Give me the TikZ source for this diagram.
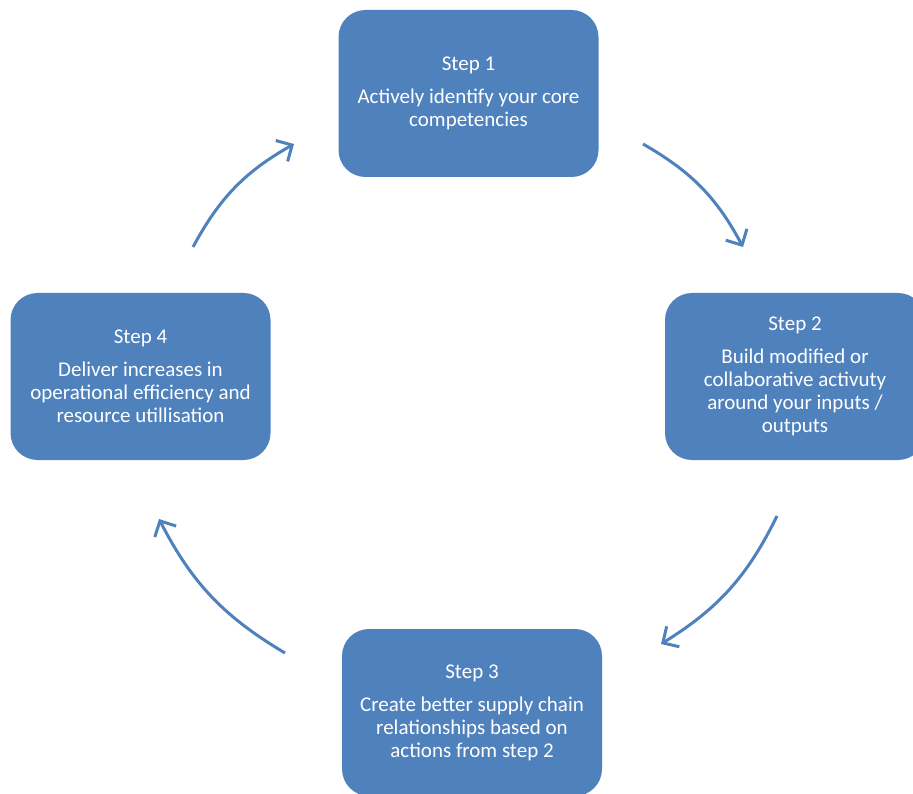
\documentclass[tikz,border=0pt]{standalone}
\usepackage{fontspec}
\setmainfont{Carlito}
\usetikzlibrary{arrows.meta}
\definecolor{stepblue}{RGB}{79,129,189}

\begin{document}
\begin{tikzpicture}[x=1pt,y=-1pt]

		\tikzset{line/.style={draw=stepblue,line width=3pt}}
		\tikzset{arrow/.style={line,-{Straight Barb[length=12pt,width=24pt]}}}
		\tikzset{box/.style={fill=stepblue,text=white,rounded corners=27pt,minimum width=260pt,minimum height=167pt,align=center,inner sep=0pt}}
		\tikzset{font=\fontsize{21}{23}\selectfont}

		\clip (0, 0) rectangle (913, 794);

		\node[box] (s1) at (468.5, 93.5) {Step 1\\[10pt]Actively identify your core\\competencies};
		\node[box] (s2) at (795, 376.5) {Step 2\\[10pt]Build modified or\\collaborative activuty\\around your inputs /\\outputs};
		\node[box] (s3) at (472, 712.5) {Step 3\\[10pt]Create better supply chain\\relationships based on\\actions from step 2};
		\node[box] (s4) at (140.5, 376.5) {Step 4\\[10pt]Deliver increases in\\operational efficiency and\\resource utillisation};

		% arrows between the steps
		\coordinate (a1) at (643, 144);
		\coordinate (b1) at (743, 247);
		\coordinate (a2) at (777, 516);
		\coordinate (b2) at (661, 644);
		\coordinate (a3) at (285, 653);
		\coordinate (b3) at (159, 519);
		\coordinate (a4) at (193, 247);
		\coordinate (b4) at (294, 144);

		\path[arrow] (a1) to[bend left=16] (b1);
		\path[arrow] (a2) to[bend left=16] (b2);
		\path[arrow] (a3) to[bend left=16] (b3);
		\path[arrow] (a4) to[bend left=16] (b4);

\end{tikzpicture}
\end{document}
